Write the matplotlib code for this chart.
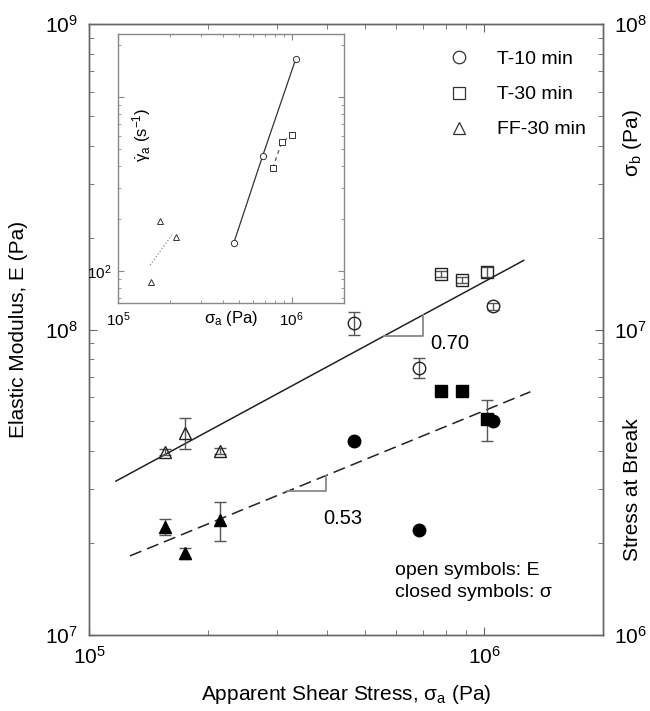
import numpy as np
import matplotlib
matplotlib.use("Agg")
import matplotlib.pyplot as plt
from matplotlib.lines import Line2D
from matplotlib.ticker import NullFormatter, FixedLocator, FixedFormatter

plt.rcParams['font.family'] = ['Liberation Sans', 'DejaVu Sans']
plt.rcParams['mathtext.fontset'] = 'custom'
plt.rcParams['mathtext.rm'] = 'Liberation Sans'
plt.rcParams['mathtext.it'] = 'Liberation Sans:italic'
plt.rcParams['mathtext.sf'] = 'Liberation Sans'

# main plot data: apparent shear stress (Pa)
t10_x = [4.68e5, 6.84e5, 1.055e6]
t10_E = [1.05e8, 7.5e7, 1.19e8]
t10_E_err = [9e6, 5.5e6, 3e6]
t10_sig = [4.3e6, 2.2e6, 5.0e6]
t10_sig_err = [0, 0, 0]

t30_x = [7.8e5, 8.8e5, 1.02e6]
t30_E = [1.52e8, 1.45e8, 1.54e8]
t30_E_err = [3e6, 3e6, 6e6]
t30_sig = [6.3e6, 6.3e6, 5.1e6]
t30_sig_err = [0, 0, 8e5]

ff_x = [1.56e5, 1.75e5, 2.14e5]
ff_E = [3.97e7, 4.6e7, 4.0e7]
ff_E_err = [1e6, 5.5e6, 1e6]
ff_sig = [2.26e6, 1.85e6, 2.38e6]
ff_sig_err = [1.4e5, 8e4, 3.5e5]

# power-law fits: y = 10**b * x**m
fitE_m, fitE_b, fitE_x = 0.70, 3.956, [1.17e5, 1.26e6]
fitS_m, fitS_b, fitS_x = 0.53, 3.554, [1.27e5, 1.31e6]
triE_x = [5.57e5, 7.0e5]
triS_x = [3.18e5, 3.97e5]

# inset data: shear rate (1/s)
in_t10_x = [4.64e5, 6.8e5, 1.055e6]
in_t10_g = [145, 458, 1650]
in_t30_x = [7.78e5, 8.77e5, 1.01e6]
in_t30_g = [391, 551, 605]
in_ff_x = [1.55e5, 1.74e5, 2.15e5]
in_ff_g = [86.5, 194, 157]
in_ff_fit_x = [1.53e5, 2.04e5]
in_ff_fit_g = [108, 161]

spine_c = '#666666'
err_c = '#555555'

fig = plt.figure(figsize=(6.5, 7.11), dpi=100)
ax = fig.add_axes([89/650, 1-635/711, 514/650, 611/711])
ax2 = ax.twinx()

ax.set_xscale('log')
ax.set_yscale('log')
ax2.set_yscale('log')
ax.set_xlim(1e5, 2e6)
ax.set_ylim(1e7, 1e9)
ax2.set_ylim(1e6, 1e8)


def fit(x, m, b):
    x = np.array(x)
    return 10**b * x**m


# fit lines
ax.plot(fitE_x, fit(fitE_x, fitE_m, fitE_b), color='#222222', lw=1.1)
ax2.plot(fitS_x, fit(fitS_x, fitS_m, fitS_b), color='#222222', lw=1.1, dashes=(8, 4))

# slope triangles
for xs, m, b, a in [(triE_x, fitE_m, fitE_b, ax), (triS_x, fitS_m, fitS_b, ax2)]:
    y0 = fit(xs[0], m, b)
    y1 = fit(xs[1], m, b)
    a.plot([xs[0], xs[1], xs[1]], [y0, y0, y1], color='#888888', lw=1.3)

ax.text(8.2e5, 9.0e7, '0.70', fontsize=14.5, ha='center', va='center')
ax2.text(4.4e5, 2.4e6, '0.53', fontsize=14.5, ha='center', va='center')

mk = dict(ms=9, mew=1.0, ls='none', ecolor=err_c, elinewidth=1.0, capsize=4, capthick=1.0)
# open symbols: E
ax.errorbar(t10_x, t10_E, yerr=t10_E_err, fmt='o', mfc='none', mec='#222222', **mk)
ax.errorbar(t30_x, t30_E, yerr=t30_E_err, fmt='s', mfc='none', mec='#222222', **dict(mk, ms=8))
ax.errorbar(ff_x, ff_E, yerr=ff_E_err, fmt='^', mfc='none', mec='#222222', **mk)
# closed symbols: sigma
ax2.errorbar(t10_x, t10_sig, yerr=t10_sig_err, fmt='o', mfc='black', mec='black', **mk)
ax2.errorbar(t30_x, t30_sig, yerr=t30_sig_err, fmt='s', mfc='black', mec='black', **dict(mk, ms=8))
ax2.errorbar(ff_x, ff_sig, yerr=ff_sig_err, fmt='^', mfc='black', mec='black', **mk)

for a in (ax, ax2):
    for s in a.spines.values():
        s.set_color(spine_c)
        s.set_linewidth(1.0)
ax.tick_params(which='both', direction='in', top=True, colors=spine_c, labelcolor='black', labelsize=15)
ax.tick_params(which='major', length=6, pad=8)
ax.tick_params(which='minor', length=3.5)
ax.tick_params(axis='y', which='both', right=False)
ax2.tick_params(which='both', direction='in', colors=spine_c, labelcolor='black', labelsize=15)
ax2.tick_params(which='major', length=6, pad=8)
ax2.tick_params(which='minor', length=3.5)
ax.xaxis.set_minor_formatter(NullFormatter())
ax.yaxis.set_minor_formatter(NullFormatter())
ax2.yaxis.set_minor_formatter(NullFormatter())

ax.set_xlabel('Apparent Shear Stress, σ$_{\\mathregular{a}}$ (Pa)', fontsize=15, labelpad=11)
ax.set_ylabel('Elastic Modulus, E (Pa)', fontsize=15, labelpad=12)
fig.text(632/650, 1-143/711, 'σ$_{\\mathregular{b}}$ (Pa)', rotation=90, fontsize=15, ha='center', va='center')
fig.text(632/650, 1-490/711, 'Stress at Break', rotation=90, fontsize=15, ha='center', va='center')

# legend
handles = [Line2D([], [], marker='o', ls='none', mfc='none', mec='#333333', ms=9, mew=0.9),
           Line2D([], [], marker='s', ls='none', mfc='none', mec='#333333', ms=8, mew=0.9),
           Line2D([], [], marker='^', ls='none', mfc='none', mec='#333333', ms=9, mew=0.9)]
ax2.legend(handles, ['T-10 min', 'T-30 min', 'FF-30 min'], loc='upper right',
           bbox_to_anchor=(1.0, 0.985), frameon=False, fontsize=14, labelspacing=0.9,
           handletextpad=1.2, handlelength=1.5)

ax.text(0.595, 0.106, 'open symbols: E', transform=ax.transAxes, fontsize=14, va='center')
ax.text(0.595, 0.070, 'closed symbols: σ', transform=ax.transAxes, fontsize=14, va='center')

# inset
axi = fig.add_axes([118/650, 1-303/711, 226/650, 269/711])
axi.set_xscale('log')
axi.set_yscale('log')
axi.set_xlim(1e5, 2e6)
axi.set_ylim(65.5, 2300)
axi.plot(in_t10_x, in_t10_g, color='#333333', lw=0.9)
axi.plot(in_t10_x, in_t10_g, 'o', mfc='white', mec='#333333', ms=4.5, mew=0.7)
axi.plot(in_t30_x, in_t30_g, color='#555555', lw=0.9, dashes=(3, 3))
axi.plot(in_t30_x, in_t30_g, 's', mfc='white', mec='#333333', ms=4, mew=0.7)
axi.plot(in_ff_fit_x, in_ff_fit_g, color='#888888', lw=0.9, ls=':')
axi.plot(in_ff_x, in_ff_g, '^', mfc='white', mec='#333333', ms=4.5, mew=0.7)
for s in axi.spines.values():
    s.set_color('#888888')
    s.set_linewidth(1.0)
axi.tick_params(which='both', direction='in', top=True, right=True, colors='#888888',
                labelcolor='black', labelsize=11)
axi.tick_params(which='major', length=4, pad=5)
axi.tick_params(which='minor', length=2)
axi.xaxis.set_minor_formatter(NullFormatter())
axi.yaxis.set_major_locator(FixedLocator([100, 1000]))
axi.yaxis.set_major_formatter(FixedFormatter(['$\\mathregular{10^2}$', '']))
axi.yaxis.set_minor_formatter(NullFormatter())
axi.set_xlabel('σ$_{\\mathregular{a}}$ (Pa)', fontsize=12, labelpad=-14)
axi.text(0.106, 0.625, '$\\dot{\\mathregular{\\gamma}}_{\\mathregular{a}}$ (s$^{\\mathregular{-1}}$)',
         transform=axi.transAxes, rotation=90, fontsize=12, ha='center', va='center')

fig.savefig('out.png', dpi=100)
